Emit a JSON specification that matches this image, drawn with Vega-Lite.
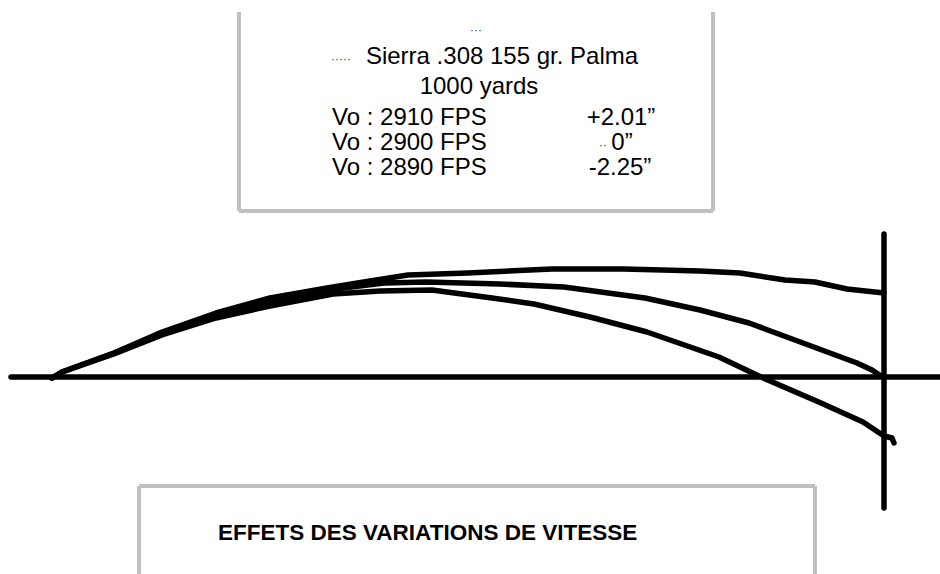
{
  "$schema": "https://vega.github.io/schema/vega-lite/v6.json",
  "autosize": {"type": "none"},
  "width": 940,
  "height": 574,
  "padding": 0,
  "background": "white",
  "config": {"view": {"stroke": null}, "font": "Liberation Sans"},
  "datasets": {
    "frames": [
      {"part": "top box left", "x": 239, "y": 12, "x2": 239, "y2": 211},
      {"part": "top box right", "x": 713, "y": 12, "x2": 713, "y2": 211},
      {"part": "top box bottom", "x": 239, "y": 211, "x2": 713, "y2": 211},
      {"part": "bottom box top", "x": 139, "y": 486, "x2": 815, "y2": 486},
      {"part": "bottom box left", "x": 139, "y": 486, "x2": 139, "y2": 574},
      {"part": "bottom box right", "x": 815, "y": 486, "x2": 815, "y2": 574}
    ],
    "axes": [
      {"part": "line of sight", "x": 11, "y": 377, "x2": 940, "y2": 377},
      {"part": "target", "x": 884, "y": 234, "x2": 884, "y2": 508}
    ],
    "curves": [
      {"vo": "2910 FPS", "x": 52, "y": 378},
      {"vo": "2910 FPS", "x": 62, "y": 372},
      {"vo": "2910 FPS", "x": 114, "y": 353},
      {"vo": "2910 FPS", "x": 162, "y": 332},
      {"vo": "2910 FPS", "x": 216, "y": 313},
      {"vo": "2910 FPS", "x": 270, "y": 298},
      {"vo": "2910 FPS", "x": 327, "y": 288},
      {"vo": "2910 FPS", "x": 370, "y": 281},
      {"vo": "2910 FPS", "x": 408, "y": 275},
      {"vo": "2910 FPS", "x": 468, "y": 273},
      {"vo": "2910 FPS", "x": 552, "y": 269},
      {"vo": "2910 FPS", "x": 624, "y": 269},
      {"vo": "2910 FPS", "x": 700, "y": 271},
      {"vo": "2910 FPS", "x": 740, "y": 273},
      {"vo": "2910 FPS", "x": 785, "y": 280},
      {"vo": "2910 FPS", "x": 815, "y": 282},
      {"vo": "2910 FPS", "x": 847, "y": 289},
      {"vo": "2910 FPS", "x": 884, "y": 293},
      {"vo": "2900 FPS", "x": 52, "y": 378},
      {"vo": "2900 FPS", "x": 62, "y": 372},
      {"vo": "2900 FPS", "x": 114, "y": 353},
      {"vo": "2900 FPS", "x": 162, "y": 334},
      {"vo": "2900 FPS", "x": 216, "y": 316},
      {"vo": "2900 FPS", "x": 270, "y": 302},
      {"vo": "2900 FPS", "x": 327, "y": 290},
      {"vo": "2900 FPS", "x": 384, "y": 283},
      {"vo": "2900 FPS", "x": 426, "y": 282},
      {"vo": "2900 FPS", "x": 500, "y": 284},
      {"vo": "2900 FPS", "x": 564, "y": 287},
      {"vo": "2900 FPS", "x": 645, "y": 298},
      {"vo": "2900 FPS", "x": 700, "y": 310},
      {"vo": "2900 FPS", "x": 749, "y": 323},
      {"vo": "2900 FPS", "x": 803, "y": 343},
      {"vo": "2900 FPS", "x": 857, "y": 363},
      {"vo": "2900 FPS", "x": 872, "y": 370},
      {"vo": "2900 FPS", "x": 884, "y": 378},
      {"vo": "2890 FPS", "x": 52, "y": 378},
      {"vo": "2890 FPS", "x": 62, "y": 372},
      {"vo": "2890 FPS", "x": 114, "y": 354},
      {"vo": "2890 FPS", "x": 162, "y": 335},
      {"vo": "2890 FPS", "x": 216, "y": 318},
      {"vo": "2890 FPS", "x": 270, "y": 306},
      {"vo": "2890 FPS", "x": 333, "y": 294},
      {"vo": "2890 FPS", "x": 380, "y": 291},
      {"vo": "2890 FPS", "x": 432, "y": 290},
      {"vo": "2890 FPS", "x": 492, "y": 298},
      {"vo": "2890 FPS", "x": 534, "y": 304},
      {"vo": "2890 FPS", "x": 590, "y": 317},
      {"vo": "2890 FPS", "x": 647, "y": 332},
      {"vo": "2890 FPS", "x": 719, "y": 357},
      {"vo": "2890 FPS", "x": 761, "y": 377},
      {"vo": "2890 FPS", "x": 821, "y": 403},
      {"vo": "2890 FPS", "x": 863, "y": 422},
      {"vo": "2890 FPS", "x": 884, "y": 436},
      {"vo": "2890 FPS", "x": 892, "y": 438},
      {"vo": "2890 FPS", "x": 894, "y": 443}
    ],
    "centered": [
      {"label": "Sierra .308 155 gr. Palma", "x": 502, "y": 64},
      {"label": "1000 yards", "x": 479, "y": 94},
      {"label": "+2.01”", "x": 621, "y": 125},
      {"label": "0”", "x": 622, "y": 150},
      {"label": "-2.25”", "x": 620, "y": 175}
    ],
    "leftText": [
      {"label": "Vo : 2910 FPS", "x": 332, "y": 125},
      {"label": "Vo : 2900 FPS", "x": 332, "y": 150},
      {"label": "Vo : 2890 FPS", "x": 332, "y": 175}
    ],
    "dots": [
      {"label": "···", "x": 476, "y": 30},
      {"label": "·····", "x": 341, "y": 59},
      {"label": "··", "x": 603, "y": 145}
    ],
    "title": [
      {"label": "EFFETS DES VARIATIONS DE VITESSE", "x": 218, "y": 540}
    ]
  },
  "layer": [
    {
      "data": {"name": "frames"},
      "mark": {"type": "rule", "color": "#c0c0c0", "strokeWidth": 4},
      "encoding": {
        "x": {"field": "x", "type": "quantitative", "scale": {"domain": [0, 940], "nice": false, "zero": false}, "axis": null},
        "y": {"field": "y", "type": "quantitative", "scale": {"domain": [574, 0], "nice": false, "zero": false}, "axis": null},
        "x2": {"field": "x2"},
        "y2": {"field": "y2"}
      }
    },
    {
      "data": {"name": "axes"},
      "mark": {"type": "rule", "color": "black", "strokeWidth": 5.5, "strokeCap": "round"},
      "encoding": {
        "x": {"field": "x", "type": "quantitative"},
        "y": {"field": "y", "type": "quantitative"},
        "x2": {"field": "x2"},
        "y2": {"field": "y2"}
      }
    },
    {
      "data": {"name": "curves"},
      "mark": {"type": "line", "color": "black", "strokeWidth": 5.5, "strokeCap": "round", "strokeJoin": "round"},
      "encoding": {
        "x": {"field": "x", "type": "quantitative"},
        "y": {"field": "y", "type": "quantitative"},
        "detail": {"field": "vo", "type": "nominal"},
        "order": {"field": "x", "type": "quantitative"}
      }
    },
    {
      "data": {"name": "centered"},
      "mark": {"type": "text", "align": "center", "baseline": "alphabetic", "fontSize": 24, "color": "black"},
      "encoding": {
        "x": {"field": "x", "type": "quantitative"},
        "y": {"field": "y", "type": "quantitative"},
        "text": {"field": "label"}
      }
    },
    {
      "data": {"name": "leftText"},
      "mark": {"type": "text", "align": "left", "baseline": "alphabetic", "fontSize": 24, "color": "black"},
      "encoding": {
        "x": {"field": "x", "type": "quantitative"},
        "y": {"field": "y", "type": "quantitative"},
        "text": {"field": "label"}
      }
    },
    {
      "data": {"name": "dots"},
      "mark": {"type": "text", "align": "center", "baseline": "middle", "fontSize": 12, "color": "#444444"},
      "encoding": {
        "x": {"field": "x", "type": "quantitative"},
        "y": {"field": "y", "type": "quantitative"},
        "text": {"field": "label"}
      }
    },
    {
      "data": {"name": "title"},
      "mark": {"type": "text", "align": "left", "baseline": "alphabetic", "fontSize": 22.5, "fontWeight": "bold", "color": "black"},
      "encoding": {
        "x": {"field": "x", "type": "quantitative"},
        "y": {"field": "y", "type": "quantitative"},
        "text": {"field": "label"}
      }
    }
  ]
}
